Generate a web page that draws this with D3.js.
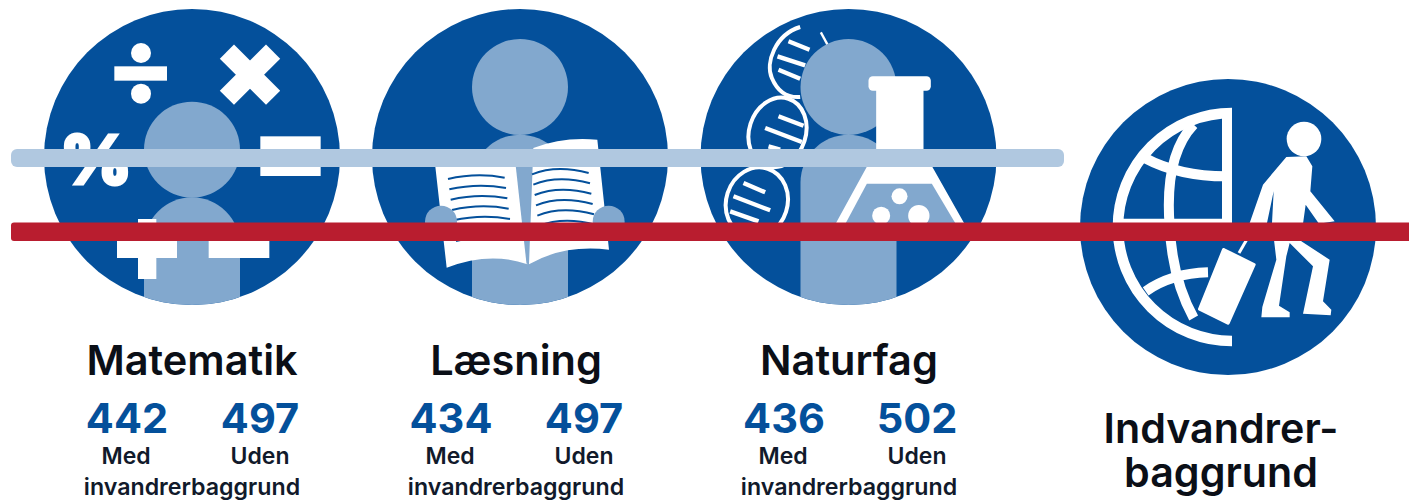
<!DOCTYPE html>
<html>
<head>
<meta charset="utf-8">
<script src="https://cdn.jsdelivr.net/npm/d3@7"></script>
<style>
  html, body { margin: 0; padding: 0; background: #fff; overflow: hidden; }
  text { font-family: Inter, "Noto Sans", sans-serif; }
</style>
</head>
<body>
<div id="wrapper"></div>
<script>
/*the values*/
const subjects = ["Matematik", "Læsning", "Naturfag"];
const withBackground = [442, 434, 436];
const withoutBackground = [497, 497, 502];
const groupLabels = ["Med", "Uden"];
const groupSubLabel = "invandrerbaggrund";
const lastTitle = ["Indvandrer-", "baggrund"];

/*canvas*/
const width = 1409, height = 501;
const blue = "#04509b", pale = "#82a8ce", band = "#b0c8e0", red = "#b91d2f";

const svg = d3.select("#wrapper").append("svg")
	.attr("width", width)
	.attr("height", height)
	.style("display", "block");

/*scales: icon centres and label centres*/
const iconX = d3.scaleOrdinal().domain(subjects.concat(["Indvandrer"])).range([192, 520, 848.5, 1228]);
const labelX = d3.scaleOrdinal().domain(subjects).range([192, 516, 849]);
const R = 444; //icons are drawn at 3x and scaled down

const defs = svg.append("defs");
defs.append("clipPath").attr("id", "disc").append("circle").attr("r", R);
defs.append("clipPath").attr("id", "halfGlobe").append("rect")
	.attr("x", -400).attr("y", -400).attr("width", 412).attr("height", 800);

function makeIcon(name, cy) {
	const g = svg.append("g")
		.attr("transform", `translate(${iconX(name)},${cy}) scale(${1 / 3})`);
	g.append("circle").attr("r", R).attr("fill", blue);
	return g;
}

function person(g, headY, bodyY) {
	g.append("circle").attr("cy", headY).attr("r", 144).attr("fill", pale);
	g.append("path")
		.attr("clip-path", "url(#disc)")
		.attr("d", `M-144,${bodyY + 144} A144,144 0 0 1 144,${bodyY + 144} V480 H-144 Z`)
		.attr("fill", pale);
}

/*step 1: matematik*/
function drawMath() {
	const g = makeIcon("Matematik", 157);
	person(g, -22, 121);
	const white = "#fff";
	//divide
	g.append("rect").attr("x", -233).attr("y", -272).attr("width", 158).attr("height", 43).attr("fill", white);
	g.append("circle").attr("cx", -153).attr("cy", -312).attr("r", 30).attr("fill", white);
	g.append("circle").attr("cx", -153).attr("cy", -190).attr("r", 30).attr("fill", white);
	//times
	const times = g.append("g").attr("transform", "translate(174,-247) rotate(45)");
	times.append("rect").attr("x", -98).attr("y", -30).attr("width", 196).attr("height", 60).attr("fill", white);
	times.append("rect").attr("x", -30).attr("y", -98).attr("width", 60).attr("height", 196).attr("fill", white);
	//percent
	g.append("text").attr("x", -288).attr("y", 82).attr("text-anchor", "middle")
		.attr("font-size", 204).attr("font-weight", 900).attr("fill", white)
		.attr("stroke", white).attr("stroke-width", 9).text("%");
	//equals / minus on the right
	g.append("rect").attr("x", 205).attr("y", -62).attr("width", 181).attr("height", 119).attr("fill", white);
	//plus
	g.append("rect").attr("x", -225).attr("y", 250).attr("width", 180).attr("height", 53).attr("fill", white);
	g.append("rect").attr("x", -162).attr("y", 186).attr("width", 55).attr("height", 180).attr("fill", white);
	//minus
	g.append("rect").attr("x", 50).attr("y", 250).attr("width", 182).attr("height", 53).attr("fill", white);
}

/*step 2: laesning*/
function drawReading() {
	const g = makeIcon("Læsning", 157);
	person(g, -210, -67);
	//right page and left page
	g.append("path").attr("fill", "#fff")
		.attr("d", "M40,-27 Q130,-62 232,-52 L267,278 Q130,262 27,322 Z");
	g.append("path").attr("fill", "#fff")
		.attr("d", "M-255,20 Q-100,10 -10,28 L22,322 Q-90,282 -220,332 Z");
	//spine
	g.append("line").attr("x1", -10).attr("y1", 30).attr("x2", 22).attr("y2", 320)
		.attr("stroke", pale).attr("stroke-width", 5);
	//text on the pages
	d3.range(7).forEach(function(i) {
		const dx = i * 4, dy = i * 31;
		g.append("path").attr("fill", "none").attr("stroke", blue).attr("stroke-width", 6)
			.attr("d", `M${-216 + dx},${66 + dy} Q${-130 + dx},${46 + dy} ${-46 + dx},${62 + dy}`);
		g.append("path").attr("fill", "none").attr("stroke", blue).attr("stroke-width", 6)
			.attr("d", `M${36 + dx},${52 + dy} Q${110 + dx},${22 + dy} ${206 + dx},${50 + dy - 2}`);
	});
	//hands
	g.append("circle").attr("cx", -237).attr("cy", 194).attr("r", 48).attr("fill", pale);
	g.append("circle").attr("cx", 266).attr("cy", 194).attr("r", 48).attr("fill", pale);
}

/*step 3: naturfag*/
function drawScience() {
	const g = makeIcon("Naturfag", 157);
	const ox = -475, oy = -472; //points below were read in zoomed pixels
	const dna = g.append("g").attr("transform", `translate(${ox},${oy})`)
		.attr("fill", "none").attr("stroke", "#fff");
	dna.append("path").attr("stroke-width", 12)
		.attr("d", "M330,82 C255,105 225,190 245,235 C262,275 290,295 330,292");
	dna.append("line").attr("x1", 392).attr("y1", 98).attr("x2", 412).attr("y2", 135).attr("stroke-width", 7);
	dna.append("ellipse").attr("cx", 262).attr("cy", 398).attr("rx", 85).attr("ry", 106)
		.attr("transform", "rotate(18 262 398)").attr("stroke-width", 12);
	dna.append("ellipse").attr("cx", 200).attr("cy", 608).attr("rx", 92).attr("ry", 106)
		.attr("transform", "rotate(18 200 608)").attr("stroke-width", 12);
	const rungs = [[295, 125, 358, 150], [262, 170, 345, 197], [265, 210, 330, 237],
		[265, 350, 340, 378], [225, 385, 335, 427], [235, 440, 270, 450],
		[160, 550, 225, 578], [130, 590, 240, 632], [120, 635, 205, 665]];
	rungs.forEach(function(r) {
		dna.append("line").attr("x1", r[0]).attr("y1", r[1]).attr("x2", r[2]).attr("y2", r[3]).attr("stroke-width", 13);
	});
	person(g, -210, -67);
	const flask = g.append("g").attr("transform", `translate(${ox},${oy})`);
	flask.append("rect").attr("x", 535).attr("y", 230).attr("width", 187).attr("height", 43).attr("rx", 13).attr("fill", "#fff");
	flask.append("path").attr("fill", "#fff")
		.attr("d", "M558,265 H700 V455 L850,720 H410 L558,450 Z");
	flask.append("path").attr("fill", pale)
		.attr("d", "M530,552 H725 L825,720 H440 Z");
	[[628, 590, 24], [573, 648, 27], [686, 648, 32]].forEach(function(b) {
		flask.append("circle").attr("cx", b[0]).attr("cy", b[1]).attr("r", b[2]).attr("fill", "#fff");
	});
}

/*step 4: indvandrer*/
function drawMigrant() {
	const g = makeIcon("Indvandrer", 227);
	const ox = -475, oy = -472;
	const globe = g.append("g").attr("clip-path", "url(#halfGlobe)");
	globe.append("circle").attr("r", 342).attr("cx", 12).attr("fill", "none").attr("stroke", "#fff").attr("stroke-width", 32);
	const lines = g.append("g").attr("transform", `translate(${ox},${oy})`).attr("fill", "none").attr("stroke", "#fff").attr("stroke-width", 30);
	lines.append("path").attr("d", "M372,165 C310,230 290,340 300,470 C305,570 325,660 372,745");
	lines.append("path").attr("d", "M225,265 C300,305 380,320 470,320");
	lines.append("path").attr("d", "M228,665 C285,625 350,610 415,608");
	lines.append("line").attr("x1", 472).attr("y1", 130).attr("x2", 472).attr("y2", 470);
	lines.append("line").attr("x1", 140).attr("y1", 462).attr("x2", 487).attr("y2", 462);
	const man = g.append("g").attr("transform", `translate(${ox},${oy})`).attr("fill", "#fff");
	man.append("circle").attr("cx", 703).attr("cy", 208).attr("r", 52);
	man.append("path").attr("d", "M650,262 L710,260 L728,290 L722,365 L795,455 L748,462 L708,405 L700,462 L695,515 L780,570 L760,695 L785,720 L783,737 L700,732 L730,590 L660,520 L650,560 L628,708 L660,728 L660,743 L575,743 L578,712 L620,570 L607,460 L612,365 L592,460 L540,460 L580,345 Z");
	man.append("path").attr("stroke", "#fff").attr("stroke-width", 10).attr("stroke-linejoin", "round")
		.attr("d", "M462,540 L553,585 L475,760 L390,718 Z");
	man.append("path").attr("fill", "none").attr("stroke", "#fff").attr("stroke-width", 9)
		.attr("d", "M530,512 L508,550");
}

drawMath();
drawReading();
drawScience();
drawMigrant();

/*step 5: the two bands across the icons*/
svg.append("rect").attr("x", 11).attr("y", 149).attr("width", 1053).attr("height", 18).attr("rx", 6).attr("fill", band);
svg.append("rect").attr("x", 11).attr("y", 222.5).attr("width", 1410).attr("height", 18.5).attr("rx", 3).attr("fill", red);

/*step 6: text under the icons*/
const columns = svg.selectAll(".subject")
	.data(subjects)
	.enter()
	.append("g")
	.attr("class", "subject")
	.attr("transform", function(d) { return `translate(${labelX(d)},0)`; })
	.attr("text-anchor", "middle");

columns.append("text")
	.attr("y", 374.5)
	.attr("font-size", 41.5)
	.attr("font-weight", 600)
	.attr("fill", "#0b0f17")
	.text(function(d) { return d; });

columns.append("text")
	.attr("x", -65)
	.attr("y", 433)
	.attr("font-size", 41.5)
	.attr("font-weight", 700)
	.attr("fill", blue)
	.text(function(d, i) { return withBackground[i]; });

columns.append("text")
	.attr("x", 68)
	.attr("y", 433)
	.attr("font-size", 41.5)
	.attr("font-weight", 700)
	.attr("fill", blue)
	.text(function(d, i) { return withoutBackground[i]; });

columns.append("text")
	.attr("x", -66)
	.attr("y", 464)
	.attr("font-size", 23)
	.attr("font-weight", 600)
	.attr("fill", "#111a2b")
	.text(groupLabels[0]);

columns.append("text")
	.attr("x", 68)
	.attr("y", 464)
	.attr("font-size", 23)
	.attr("font-weight", 600)
	.attr("fill", "#111a2b")
	.text(groupLabels[1]);

columns.append("text")
	.attr("y", 495)
	.attr("font-size", 23.2)
	.attr("font-weight", 600)
	.attr("fill", "#111a2b")
	.text(groupSubLabel);

svg.append("text")
	.attr("class", "lastTitle")
	.attr("text-anchor", "middle")
	.attr("font-size", 41.2)
	.attr("font-weight", 600)
	.attr("fill", "#0b0f17")
	.selectAll("tspan")
	.data(lastTitle)
	.enter()
	.append("tspan")
	.attr("x", 1221)
	.attr("y", function(d, i) { return 443 + i * 44; })
	.text(function(d) { return d; });
</script>
</body>
</html>
